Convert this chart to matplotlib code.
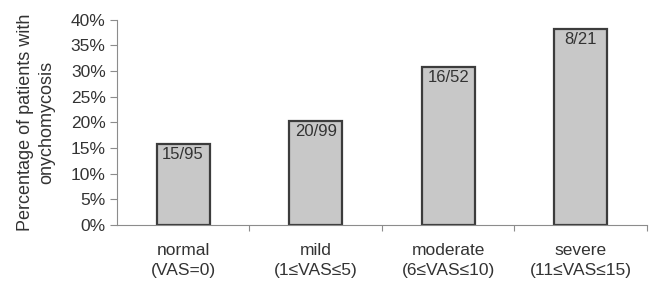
import matplotlib.pyplot as plt
import numpy as np

plt.rcParams['font.family'] = ['Liberation Sans', 'DejaVu Sans']

categories = ["normal\n(VAS=0)", "mild\n(1≤VAS≤5)", "moderate\n(6≤VAS≤10)", "severe\n(11≤VAS≤15)"]
cases = [15, 20, 16, 8]
totals = [95, 99, 52, 21]
yticks = [0, 0.05, 0.10, 0.15, 0.20, 0.25, 0.30, 0.35, 0.40]

pct = [c / t for c, t in zip(cases, totals)]
x = np.arange(len(categories))
text_col = "#333333"
axis_col = "#8c8c8c"

fig = plt.figure(figsize=(6.49, 2.88), dpi=100)
ax = fig.add_axes([0.180, 0.219, 0.817, 0.713])

bars = ax.bar(x, pct, width=0.4, color="#c8c8c8", edgecolor="#3c3c3c", linewidth=1.6)
for xi, p, c, t in zip(x, pct, cases, totals):
    ax.text(xi, p - 0.006, f"{c}/{t}", ha="center", va="top", fontsize=12, color=text_col)

ax.set_xlim(-0.5, 3.5)
ax.set_ylim(0, 0.40)
ax.set_yticks(yticks)
ax.set_yticklabels([f"{int(round(v * 100))}%" for v in yticks])

# boundary ticks (no labels) + centred category labels
ax.set_xticks(np.arange(0.5, 4, 1))
ax.set_xticklabels([])
ax.set_xticks(x, minor=True)
ax.set_xticklabels(categories, minor=True, fontsize=12.5, color=text_col, linespacing=1.45)
ax.tick_params(axis="x", which="major", length=4, color=axis_col, direction="out")
ax.tick_params(axis="x", which="minor", length=0, pad=13)
ax.tick_params(axis="y", length=5, color=axis_col, labelsize=12.5, labelcolor=text_col, pad=3)

for s in ["top", "right"]:
    ax.spines[s].set_visible(False)
for s in ["left", "bottom"]:
    ax.spines[s].set_color(axis_col)

ax.set_ylabel("Percentage of patients with\nonychomycosis", fontsize=13, color=text_col,
              linespacing=1.35, labelpad=11)

fig.savefig("out.png", dpi=100)
